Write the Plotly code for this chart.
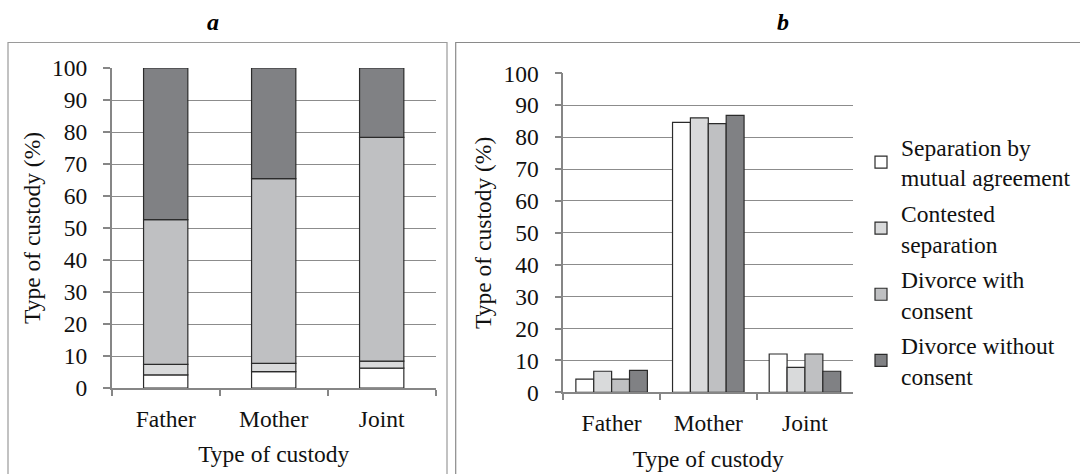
import plotly.graph_objects as go
import numpy as np

categories = ["Father", "Mother", "Joint"]
series_names = ["Separation by mutual agreement", "Contested separation",
                "Divorce with consent", "Divorce without consent"]
legend_labels = ["Separation by<br>mutual agreement", "Contested<br>separation",
                 "Divorce with<br>consent", "Divorce without<br>consent"]
colors = ["#ffffff", "#d9dadb", "#bfc0c2", "#808184"]

# Panel a (stacked, %)
a_mutual = [4.1, 5.1, 6.2]
a_contested = [3.3, 2.6, 2.2]
a_with = [45.2, 57.7, 69.9]
a_without = [47.4, 34.6, 21.7]

# Panel b (grouped, %)
b_mutual = [4.1, 84.6, 12.0]
b_contested = [6.6, 86.0, 7.8]
b_with = [4.1, 84.2, 12.0]
b_without = [6.9, 86.8, 6.6]

y_ticks = list(range(0, 101, 10))

FONT = "Liberation Serif, Times New Roman, Times, serif"
FS = 23.5
GRID = "#8c8c8c"
AXIS = "#868686"
OUTLINE = "#2b2b2b"

fig = go.Figure()

a_series = [a_mutual, a_contested, a_with, a_without]
base = np.zeros(len(categories))
for name, vals, col in zip(series_names, a_series, colors):
    fig.add_trace(go.Bar(
        x=categories, y=vals, base=base.copy(), name=name, showlegend=False,
        marker=dict(color=col, line=dict(color=OUTLINE, width=1.2)),
        width=0.41, offset=-0.205, xaxis="x", yaxis="y"))
    base = base + np.array(vals)

b_series = [b_mutual, b_contested, b_with, b_without]
for i, (lab, vals, col) in enumerate(zip(legend_labels, b_series, colors)):
    fig.add_trace(go.Bar(
        x=categories, y=vals, name=lab, showlegend=True, legendgroup=f"g{i}",
        marker=dict(color=col, line=dict(color=OUTLINE, width=1.2)),
        xaxis="x2", yaxis="y2"))

W, H = 1080, 474
def px(x): return x / W
def py(y): return 1 - y / H

TXT = dict(family=FONT, size=FS, color="#111")

xax_common = dict(type="category", showgrid=False, showline=True, linecolor=AXIS, linewidth=1.5,
                  automargin=False,
                  ticks="outside", tickson="boundaries", ticklen=6, tickcolor=AXIS, tickwidth=1.5,
                  tickfont=TXT, ticklabelstandoff=9,
                  title=dict(text="Type of custody", font=TXT, standoff=15))
yax_common = dict(range=[0, 100], tickvals=y_ticks, showgrid=True, gridcolor=GRID, gridwidth=1,
                  showline=True, linecolor=AXIS, linewidth=1.5, zeroline=False, automargin=False,
                  ticks="outside", ticklen=7, tickcolor=AXIS, tickwidth=1.5,
                  tickfont=TXT, ticklabelstandoff=11,
                  title=dict(text="Type of custody (%)", font=TXT, standoff=5))

fig.update_layout(
    width=W, height=H,
    margin=dict(l=0, r=0, t=0, b=0, autoexpand=False),
    paper_bgcolor="white", plot_bgcolor="white",
    barmode="group", bargap=0.26, bargroupgap=0,
    font=TXT,
    xaxis=dict(domain=[px(111.7), px(435.7)], anchor="y", **xax_common),
    yaxis=dict(domain=[py(388), py(68)], anchor="x", **yax_common),
    xaxis2=dict(domain=[px(563.3), px(853.3)], anchor="y2", **xax_common),
    yaxis2=dict(domain=[py(392.3), py(73.3)], anchor="x2", **yax_common),
    legend=dict(x=px(861), y=py(125), xanchor="left", yanchor="top",
                font=TXT, bgcolor="rgba(0,0,0,0)", tracegroupgap=2, itemclick=False),
    shapes=[
        dict(type="rect", xref="paper", yref="paper", x0=px(8), x1=px(447), y0=py(476), y1=py(42.5),
             line=dict(color="#9a9a9a", width=1.2), fillcolor="rgba(0,0,0,0)", layer="below"),
        dict(type="rect", xref="paper", yref="paper", x0=px(455.7), x1=px(1082), y0=py(476), y1=py(42.5),
             line=dict(color="#8a8a8a", width=1.2), fillcolor="rgba(0,0,0,0)", layer="below"),
    ],
    annotations=[
        dict(text="<b><i>a</i></b>", x=px(213), y=py(22), xref="paper", yref="paper",
             xanchor="center", yanchor="middle",
             showarrow=False, font=dict(family=FONT, size=24, color="#000")),
        dict(text="<b><i>b</i></b>", x=px(783), y=py(22), xref="paper", yref="paper",
             xanchor="center", yanchor="middle",
             showarrow=False, font=dict(family=FONT, size=24, color="#000")),
    ],
)

fig.write_html("out.html")
